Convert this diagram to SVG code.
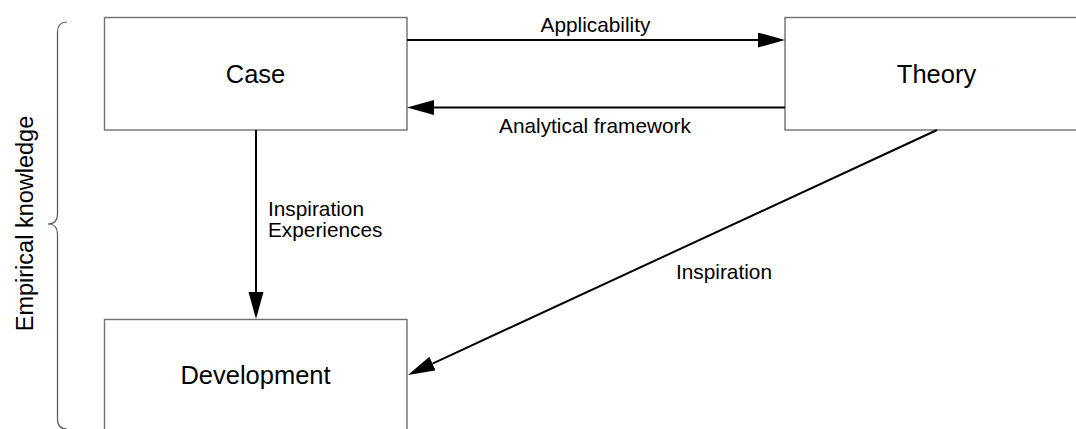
<svg xmlns="http://www.w3.org/2000/svg" width="1076" height="429" viewBox="0 0 1076 429">
  <style>
    .box { fill: #ffffff; stroke: #707070; stroke-width: 1.4; }
    .node { font-family: "Liberation Sans", Arial, sans-serif; font-size: 25.5px; fill: #000; text-anchor: middle; }
    .lbl { font-family: "Liberation Sans", Arial, sans-serif; font-size: 20.8px; fill: #000; }
    .edge { fill: none; stroke: #000; stroke-width: 2; }
    .brace { fill: none; stroke: #555; stroke-width: 1.2; }
  </style>
  <defs>
    <marker id="arrow" markerUnits="userSpaceOnUse" markerWidth="28" markerHeight="16" refX="0" refY="7.5" orient="auto">
      <path d="M0,0 L27,7.5 L0,15 Z" fill="#000"/>
    </marker>
  </defs>
  <rect width="1076" height="429" fill="#ffffff"/>

  <!-- side brace and caption -->
  <g id="empirical-knowledge">
    <path class="brace" d="M67,22 Q57.5,22 57.5,32 L57.5,214 Q57.5,224 48,224 Q57.5,224 57.5,234 L57.5,419 Q57.5,429 67,429"/>
    <text class="lbl" style="font-size:23.5px" text-anchor="middle" transform="translate(33,223.5) rotate(-90)">Empirical knowledge</text>
  </g>

  <g id="case">
    <rect class="box" x="104.5" y="17.5" width="302.5" height="112.5"/>
    <text class="node" x="255.5" y="82.5">Case</text>
  </g>

  <g id="theory">
    <rect class="box" x="785" y="17.5" width="300" height="112.5"/>
    <text class="node" x="936.5" y="83">Theory</text>
  </g>

  <g id="development">
    <rect class="box" x="104.5" y="319.5" width="302.5" height="120"/>
    <text class="node" x="255.5" y="384">Development</text>
  </g>

  <g id="connectors">
    <line class="edge" x1="407" y1="40" x2="758" y2="40" marker-end="url(#arrow)"/>
    <text class="lbl" x="595.5" y="31.5" text-anchor="middle">Applicability</text>

    <line class="edge" x1="785" y1="107.5" x2="434" y2="107.5" marker-end="url(#arrow)"/>
    <text class="lbl" x="595" y="132.5" text-anchor="middle">Analytical framework</text>

    <line class="edge" x1="256" y1="130" x2="256" y2="292" marker-end="url(#arrow)"/>
    <text class="lbl" x="268" y="216">Inspiration</text>
    <text class="lbl" x="268" y="237">Experiences</text>

    <line class="edge" x1="937" y1="130" x2="432.5" y2="363.6" marker-end="url(#arrow)"/>
    <text class="lbl" x="676" y="279">Inspiration</text>
  </g>
</svg>
